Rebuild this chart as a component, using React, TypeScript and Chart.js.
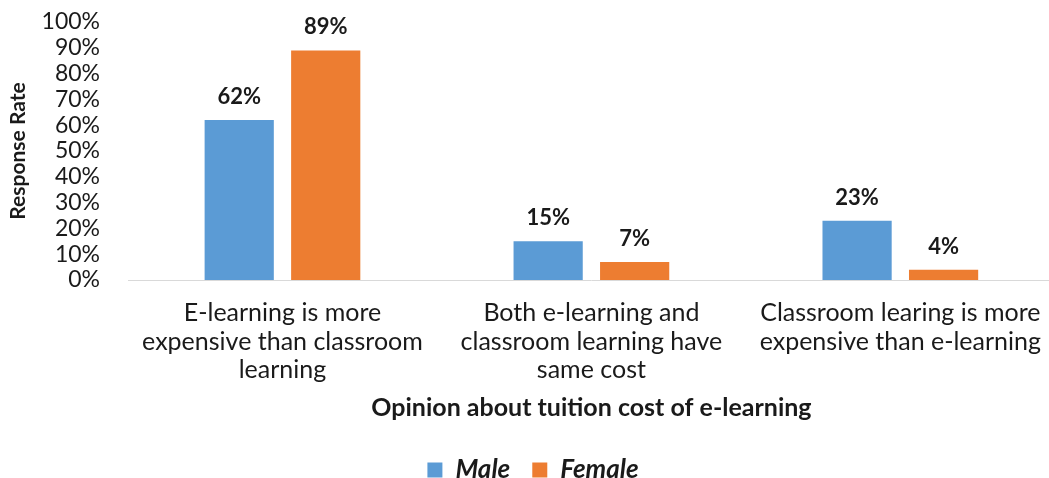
import React, { useEffect, useRef } from "react";
import { Chart, registerables } from "chart.js";

Chart.register(...registerables);

const categories: string[][] = [
  ["E-learning is more", "expensive than classroom", "learning"],
  ["Both e-learning and", "classroom learning have", "same cost"],
  ["Classroom learing is more", "expensive than e-learning"],
];
const maleValues = [62, 15, 23];
const femaleValues = [89, 7, 4];
const seriesNames = ["Male", "Female"];
const colors = ["#5B9BD5", "#ED7D31"];
const xTitle = "Opinion about tuition cost of e-learning";
const yTitle = "Response Rate";

const FONT = "Lato, 'Open Sans', sans-serif";

const labelPlugin = {
  id: "barLabels",
  afterDatasetsDraw(chart: any) {
    const ctx = chart.ctx;
    ctx.save();
    ctx.font = `bold 22px ${FONT}`;
    ctx.fillStyle = "#1a1a1a";
    ctx.textAlign = "center";
    ctx.textBaseline = "middle";
    chart.data.datasets.forEach((ds: any, i: number) => {
      const meta = chart.getDatasetMeta(i);
      meta.data.forEach((bar: any, j: number) => {
        ctx.fillText(`${ds.data[j]}%`, bar.x, bar.y - 23);
      });
    });
    ctx.restore();
  },
};

export default function App() {
  const ref = useRef<HTMLCanvasElement>(null);
  useEffect(() => {
    document.body.style.overflow = "hidden";
    const chart = new Chart(ref.current!, {
      type: "bar",
      data: {
        labels: categories,
        datasets: [
          { label: seriesNames[0], data: maleValues, backgroundColor: colors[0] },
          { label: seriesNames[1], data: femaleValues, backgroundColor: colors[1] },
        ],
      },
      options: {
        animation: false,
        responsive: false,
        maintainAspectRatio: false,
        layout: { padding: { top: 22, left: 6, right: 0, bottom: -15 } },
        datasets: {
          bar: { categoryPercentage: 0.56, barPercentage: 0.8 },
        },
        plugins: {
          legend: {
            position: "bottom",
            labels: {
              font: { family: FONT, size: 26, weight: "bold", style: "italic" },
              color: "#1a1a1a",
              boxWidth: 15,
              boxHeight: 15,
              padding: 22,
            },
          },
          tooltip: { enabled: false },
        },
        scales: {
          x: {
            grid: { display: false, drawTicks: false },
            border: { display: true, color: "#d9d9d9", width: 1 },
            afterFit: (scale: any) => {
              scale.height = 155;
            },
            ticks: {
              font: { family: FONT, size: 25, lineHeight: 1.14 },
              color: "#1a1a1a",
              padding: 19,
              maxRotation: 0,
              autoSkip: false,
            },
            title: {
              display: true,
              text: xTitle,
              font: { family: FONT, size: 25, weight: "bold" },
              color: "#1a1a1a",
              padding: { top: 0, bottom: 12 },
            },
          },
          y: {
            min: 0,
            max: 100,
            grid: { display: false, drawTicks: false },
            border: { display: false },
            afterFit: (scale: any) => {
              scale.width = 122;
              scale.paddingTop = 0;
              scale.paddingBottom = 0;
            },
            ticks: {
              stepSize: 10,
              autoSkip: false,
              callback: (v: any) => `${v}%`,
              font: { family: FONT, size: 23 },
              color: "#1a1a1a",
              padding: 28,
            },
            title: {
              display: true,
              text: yTitle,
              font: { family: FONT, size: 21, weight: "bold" },
              color: "#1a1a1a",
              padding: { top: 0, bottom: 8 },
            },
          },
        },
      },
      plugins: [labelPlugin],
    });
    return () => chart.destroy();
  }, []);
  return (
    <div style={{ position: "fixed", left: 0, top: 0, width: 1060, height: 478, background: "#fff" }}>
      <canvas ref={ref} width={1060} height={478} />
    </div>
  );
}
